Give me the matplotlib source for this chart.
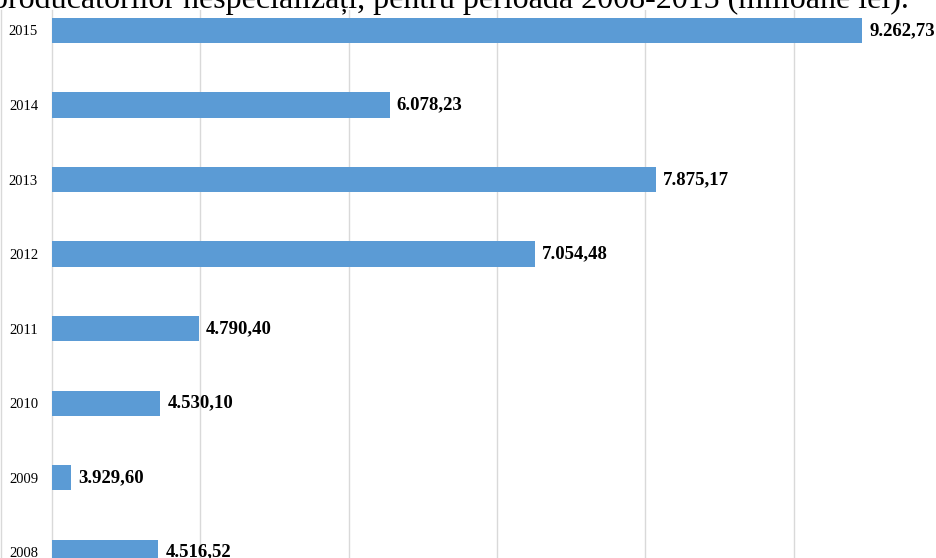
import matplotlib
matplotlib.use("Agg")
import matplotlib.pyplot as plt

years = ["2008", "2009", "2010", "2011", "2012", "2013", "2014", "2015"]
values = [4516.52, 3929.60, 4530.10, 4790.40, 7054.48, 7875.17, 6078.23, 9262.73]
labels = ["4.516,52", "3.929,60", "4.530,10", "4.790,40", "7.054,48", "7.875,17", "6.078,23", "9.262,73"]
title = "producătorilor nespecializați, pentru perioada 2008-2015 (milioane lei)."

W, H = 937, 558
fig = plt.figure(figsize=(W / 100, H / 100), dpi=100)
fig.patch.set_facecolor("white")

serif = ["Liberation Serif", "DejaVu Serif"]

ax_left, ax_right = 52, 937
ax_top, ax_bottom = 10, 558
ax = fig.add_axes([ax_left / W, 1 - ax_bottom / H, (ax_right - ax_left) / W, (ax_bottom - ax_top) / H])

x0 = 3800
px_per_unit = 148.3 / 1000
ax.set_xlim(x0, x0 + (ax_right - ax_left) / px_per_unit)
ax.set_ylim(-0.08, 7.275)

pos = list(range(len(years)))
ax.barh(pos, [v - x0 for v in values], left=x0, height=0.336, color="#5B9BD5", zorder=3)

for p, v, lab in zip(pos, values, labels):
    ax.text(v + 7 / px_per_unit, p, lab, va="center", ha="left", fontsize=13.5,
            fontweight="bold", family=serif, clip_on=False, zorder=4)

ax.set_xticks([x0 + 1000 * k for k in range(1, 6)])
ax.xaxis.grid(True, color="#D9D9D9", linewidth=1.0, zorder=0)
ax.tick_params(axis="x", length=0, labelbottom=False)
ax.set_yticks(pos)
ax.set_yticklabels(years, family=serif, fontsize=10.5)
ax.tick_params(axis="y", length=0, pad=10)
for side in ("top", "right", "bottom"):
    ax.spines[side].set_visible(False)
ax.spines["left"].set_color("#D9D9D9")
ax.spines["left"].set_linewidth(1.0)

# thin chart border on the far left
fig.add_artist(plt.Line2D([1 / W, 1 / W], [0, 1 - 10 / H], color="#D9D9D9", linewidth=1.0))

fig.text(909 / W, 1 - 8 / H, title, ha="right", va="baseline", fontsize=23, family=serif)

fig.savefig("out.png", dpi=100)
